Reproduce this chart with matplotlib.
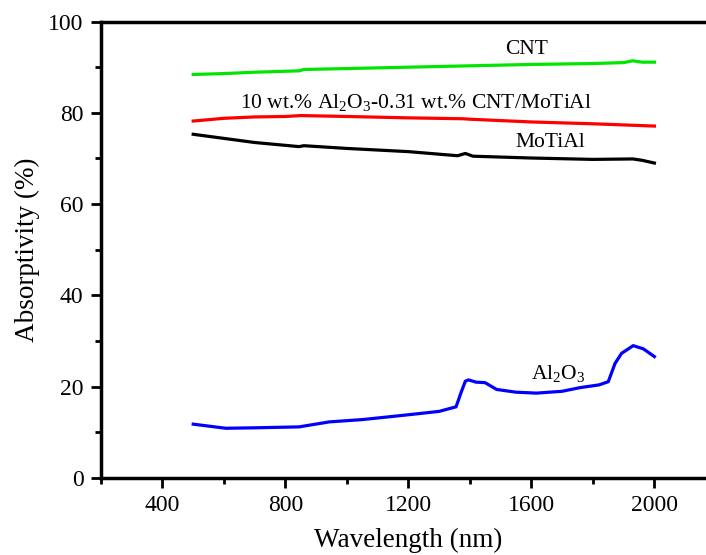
import matplotlib.pyplot as plt
from matplotlib.ticker import MultipleLocator

plt.rcParams['font.family'] = ['Liberation Serif', 'DejaVu Serif']
plt.rcParams['mathtext.fontset'] = 'custom'
plt.rcParams['mathtext.rm'] = 'Liberation Serif'

# 读取自原图的数据点
cnt_x = [500, 600, 700, 844, 860, 1000, 1200, 1400, 1600, 1800, 1900, 1930, 1960, 2000]
cnt_y = [88.4, 88.6, 88.9, 89.2, 89.5, 89.7, 90.0, 90.3, 90.6, 90.8, 91.0, 91.4, 91.1, 91.1]

comp_x = [500, 600, 700, 800, 850, 1000, 1200, 1379, 1400, 1600, 1800, 2000]
comp_y = [78.2, 78.8, 79.1, 79.2, 79.4, 79.2, 78.9, 78.7, 78.6, 78.0, 77.6, 77.1]

mo_x = [500, 600, 700, 844, 860, 1000, 1200, 1360, 1385, 1410, 1600, 1800, 1930, 1960, 2000]
mo_y = [75.3, 74.4, 73.5, 72.6, 72.8, 72.2, 71.5, 70.6, 71.1, 70.5, 70.1, 69.8, 69.9, 69.6, 69.0]

al_x = [500, 606, 700, 844, 943, 1050, 1192, 1300, 1355, 1370, 1385, 1395, 1420, 1449, 1487, 1550,
        1617, 1700, 1758, 1820, 1850, 1872, 1893, 1931, 1964, 2000]
al_y = [11.8, 10.9, 11.0, 11.2, 12.3, 12.8, 13.8, 14.6, 15.6, 18.5, 21.2, 21.5, 21.0, 20.9, 19.4, 18.8,
        18.6, 19.0, 19.8, 20.4, 21.1, 25.1, 27.3, 29.0, 28.3, 26.6]

fig = plt.figure(figsize=(7.06, 5.55), dpi=100)
ax = fig.add_axes([0.143, 0.1387, 0.871, 0.8225])

ax.plot(cnt_x, cnt_y, color='#00e600', lw=2.3)
ax.plot(comp_x, comp_y, color='#ff0000', lw=2.3)
ax.plot(mo_x, mo_y, color='black', lw=2.3)
ax.plot(al_x, al_y, color='#0000ff', lw=2.3)

ax.text(1585, 93.8, 'CNT', ha='center', va='center', fontsize=15.5)
ax.text(1224, 82.2, r'10 wt.% Al$_2$O$_3$-0.31 wt.% CNT/MoTiAl', ha='center', va='center', fontsize=15.5)
ax.text(1660, 73.4, 'MoTiAl', ha='center', va='center', fontsize=15.5)
ax.text(1686, 22.8, r'Al$_2$O$_3$', ha='center', va='center', fontsize=15.5)

ax.set_xlim(200, 2200)
ax.set_ylim(0, 100)
ax.xaxis.set_minor_locator(MultipleLocator(200))
ax.yaxis.set_major_locator(MultipleLocator(20))
ax.yaxis.set_minor_locator(MultipleLocator(10))
ax.set_xticks([400, 800, 1200, 1600, 2000])
ax.tick_params(which='major', direction='out', length=7.5, width=2, labelsize=17, pad=5)
ax.tick_params(which='minor', direction='out', length=4, width=2)
ax.tick_params(top=False, right=False, which='both')
for s in ax.spines.values():
    s.set_linewidth(2.5)

ax.set_xlabel('Wavelength (nm)', fontsize=19.5, labelpad=8)
ax.set_ylabel('Absorptivity (%)', fontsize=19.5, labelpad=6)

fig.savefig('out.png', dpi=100)
